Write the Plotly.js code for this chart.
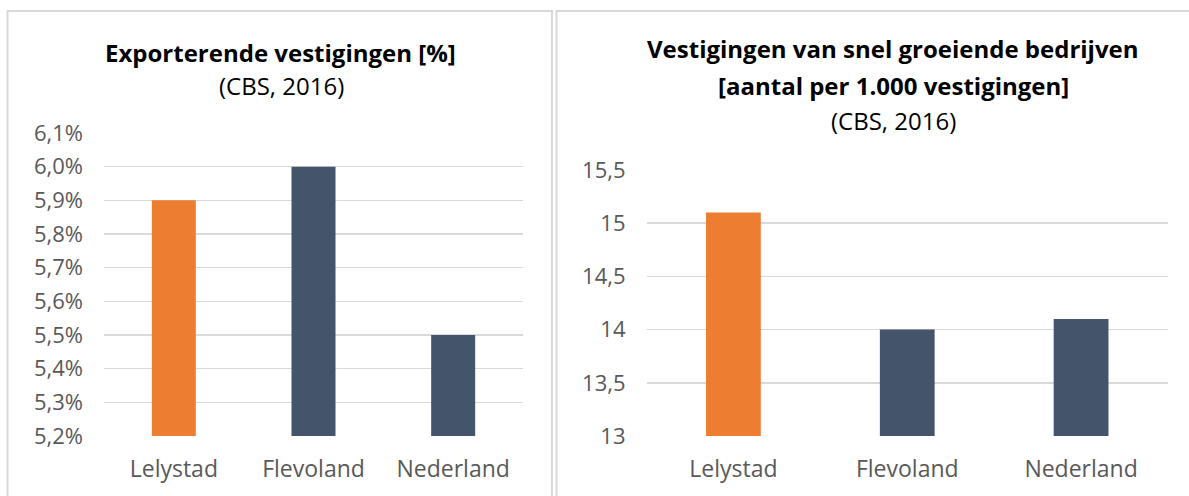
<!DOCTYPE html>
<html>
<head>
<meta charset="utf-8">
<script src="https://cdn.plot.ly/plotly-3.0.1.min.js"></script>
<style>
html,body{margin:0;padding:0;background:#fff;}
#chart{width:1189px;height:496px;}
</style>
</head>
<body>
<div id="chart"></div>
<script>
const categories = ['Lelystad', 'Flevoland', 'Nederland'];
const exportShare = [5.9, 6.0, 5.5];
const fastGrowth = [15.1, 14.0, 14.1];
const barColors = ['#ED7D31', '#44546A', '#44546A'];
const title1 = '<b>Exporterende vestigingen [%]</b>';
const sub1 = '(CBS, 2016)';
const title2a = '<b>Vestigingen van snel groeiende bedrijven</b>';
const title2b = '<b>[aantal per 1.000 vestigingen]</b>';
const sub2 = '(CBS, 2016)';

const W = 1189, H = 496;
const px = v => v / W;
const py = v => 1 - v / H;
const FONT = 'Open Sans, sans-serif';
const xTickFont = {family: FONT, size: 23, color: '#595959'};
const yTickFont = {family: FONT, size: 22, color: '#595959'};
const grid = '#D9D9D9';

const traces = [
  {type: 'bar', x: categories, y: exportShare, xaxis: 'x', yaxis: 'y',
   marker: {color: barColors}, hoverinfo: 'none'},
  {type: 'bar', x: categories, y: fastGrowth, xaxis: 'x2', yaxis: 'y2',
   marker: {color: barColors}, hoverinfo: 'none'}
];

const axX = {
  showgrid: false, zeroline: false, showline: false, ticks: '',
  tickfont: xTickFont, ticklabelstandoff: 17, fixedrange: true
};
const axY = {
  showgrid: true, gridcolor: grid, gridwidth: 1.5, zeroline: false, showline: false,
  ticks: '', tickfont: yTickFont, ticklabelstandoff: 20, fixedrange: true
};

const layout = {
  width: W, height: H,
  margin: {l: 0, r: 0, t: 0, b: 0},
  paper_bgcolor: '#fff', plot_bgcolor: 'rgba(0,0,0,0)',
  separators: ',.',
  showlegend: false,
  bargap: 0.685,
  xaxis: Object.assign({}, axX, {domain: [px(104), px(523)], anchor: 'y'}),
  yaxis: Object.assign({}, axY, {domain: [py(436), py(133)], range: [5.2, 6.1],
    tick0: 5.2, dtick: 0.1, tickformat: '.1f', ticksuffix: '%', anchor: 'x'}),
  xaxis2: Object.assign({}, axX, {domain: [px(646.5), px(1168)], anchor: 'y2'}),
  yaxis2: Object.assign({}, axY, {domain: [py(436), py(170)], range: [13, 15.5],
    tick0: 13, dtick: 0.5, anchor: 'x2'}),
  shapes: [
    {type: 'rect', xref: 'paper', yref: 'paper', x0: px(7.5), x1: px(552), y0: py(520), y1: py(11),
     line: {color: grid, width: 2}, fillcolor: 'rgba(0,0,0,0)', layer: 'below'},
    {type: 'rect', xref: 'paper', yref: 'paper', x0: px(556.5), x1: px(1200), y0: py(520), y1: py(11),
     line: {color: grid, width: 2}, fillcolor: 'rgba(0,0,0,0)', layer: 'below'}
  ],
  annotations: [
    {text: title1, xref: 'paper', yref: 'paper', x: px(280), y: py(53), showarrow: false,
     xanchor: 'center', yanchor: 'middle', font: {family: FONT, size: 24, color: '#000'}},
    {text: sub1, xref: 'paper', yref: 'paper', x: px(281), y: py(85), showarrow: false,
     xanchor: 'center', yanchor: 'middle', font: {family: FONT, size: 24, color: '#000'}},
    {text: title2a, xref: 'paper', yref: 'paper', x: px(893), y: py(49), showarrow: false,
     xanchor: 'center', yanchor: 'middle', font: {family: FONT, size: 24, color: '#000'}},
    {text: title2b, xref: 'paper', yref: 'paper', x: px(893), y: py(86), showarrow: false,
     xanchor: 'center', yanchor: 'middle', font: {family: FONT, size: 24, color: '#000'}},
    {text: sub2, xref: 'paper', yref: 'paper', x: px(893), y: py(121), showarrow: false,
     xanchor: 'center', yanchor: 'middle', font: {family: FONT, size: 24, color: '#000'}}
  ]
};

Plotly.newPlot('chart', traces, layout, {displayModeBar: false, staticPlot: true});
</script>
</body>
</html>
